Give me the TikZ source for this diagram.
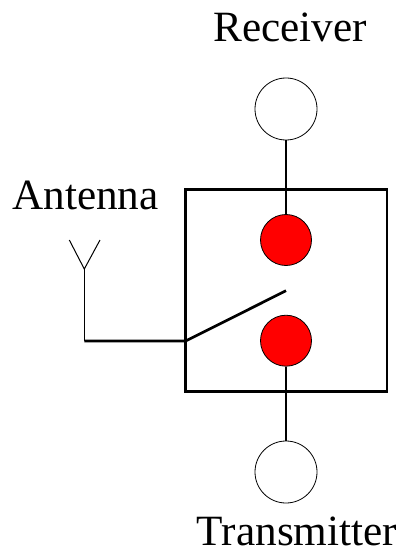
\documentclass[tikz,border=0pt]{standalone}
\usepackage{fontspec}
\setmainfont{Liberation Serif}
\tikzset{
  port/.style={circle, draw=black, fill=white, line width=.8pt, minimum size=62pt, inner sep=0pt},
  contact/.style={circle, draw=black, fill=red, line width=.8pt, minimum size=51pt, inner sep=0pt},
  wire/.style={black, line width=2.7pt},
  feed/.style={black, line width=1pt},
  tag/.style={font=\fontsize{43.2}{43.2}\selectfont, inner sep=0pt}
}
\begin{document}
\begin{tikzpicture}[x=1pt,y=-1pt]
  \useasboundingbox (0,0) rectangle (400,556);
  \coordinate (boxnw) at (185.7,189.7);
  \coordinate (boxse) at (387,391.5);
  \coordinate (pivot) at (185.7,341);
  \coordinate (bend) at (84.3,341);
  \coordinate (blade) at (286,290.7);
  \coordinate (apex) at (84.3,269);
  \coordinate (antl) at (69.3,240);
  \coordinate (antr) at (100,240);
  \coordinate (antm) at (84.3,269);
  \draw [wire] (boxnw) rectangle (boxse);
  \node [port] (rx) at (286,109) {};
  \node [port] (tx) at (286,472) {};
  \node [contact] (upper) at (286,240) {};
  \node [contact] (lower) at (286,340.7) {};
  \node [tag] (rxlabel) at (290,27) {Receiver};
  \node [tag] (txlabel) at (297,531) {Transmitter};
  \node [tag] (antlabel) at (85.5,195) {Antenna};
  \draw [wire] (rx) -- (upper);
  \draw [wire] (tx) -- (lower);
  \draw [feed] (bend) -- (antm);
  \draw [feed] (antl) -- (apex) -- (antr);
  \draw [wire, line join=round] (bend) -- (pivot) -- (blade);
\end{tikzpicture}
\end{document}
